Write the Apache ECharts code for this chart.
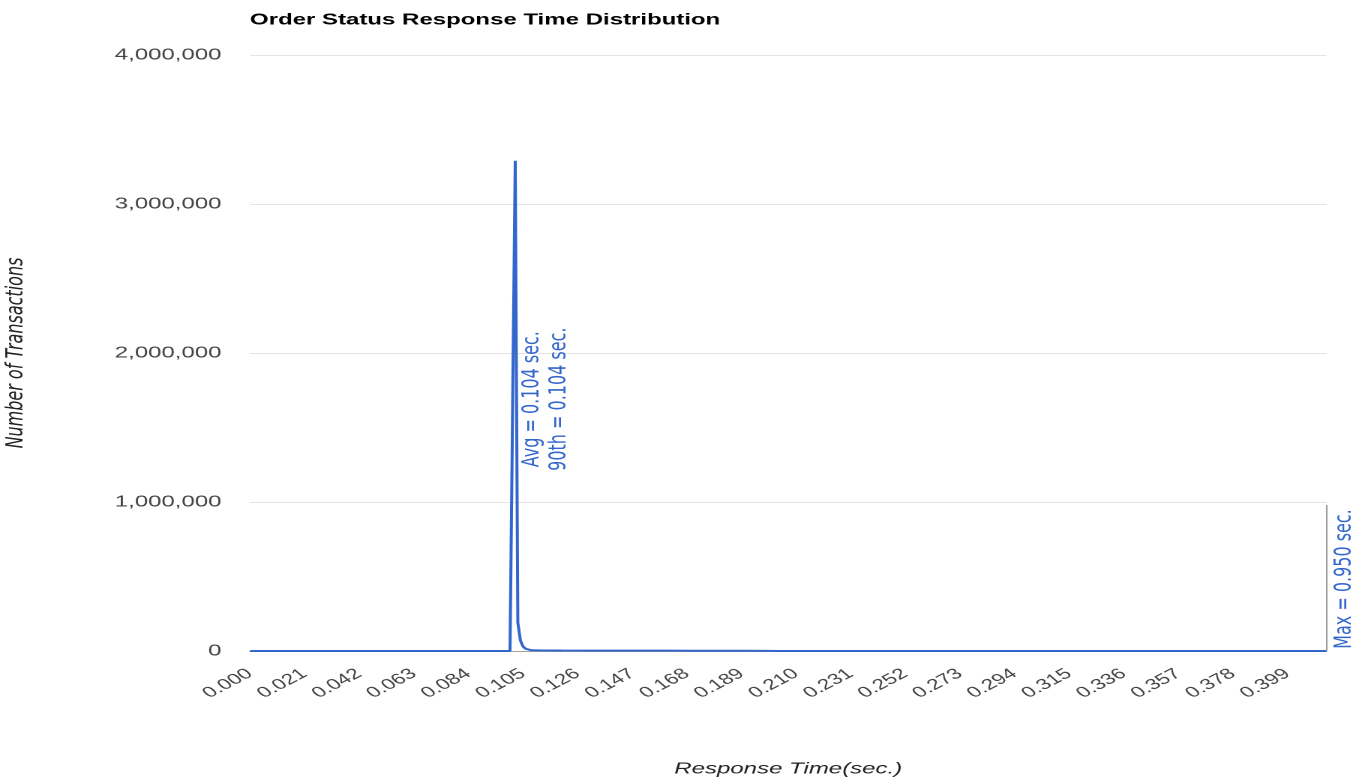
<!DOCTYPE html>
<html>
<head>
<meta charset="utf-8">
<script src="https://cdn.jsdelivr.net/npm/echarts@6/dist/echarts.min.js"></script>
<style>
html,body{margin:0;padding:0;background:#fff;overflow:hidden}
#wrap{width:1364px;height:780px;overflow:hidden;position:relative}
#chart{width:909px;height:780px;transform:scaleX(1.5);transform-origin:0 0}
</style>
</head>
<body>
<div id="wrap"><div id="chart"></div></div>
<script>
// ---- data ----
const chartTitle = 'Order Status Response Time Distribution';
const xAxisTitle = 'Response Time(sec.)';
const yAxisTitle = 'Number of Transactions';
// response-time buckets (sec.) and transaction counts
const responseTime = [0.000, 0.100, 0.101, 0.102, 0.103, 0.104, 0.105, 0.106, 0.107, 0.108, 0.109, 0.110, 0.112, 0.115, 0.120, 0.130, 0.140, 0.150, 0.160, 0.170, 0.180, 0.190, 0.200, 0.203, 0.414];
const transactions = [0, 0, 0, 3290000, 190000, 70000, 30000, 15000, 9000, 6000, 5000, 4500, 4000, 3500, 3000, 2800, 2600, 2400, 2200, 2000, 1800, 1500, 1200, 0, 0];
const yTicks = [0, 1000000, 2000000, 3000000, 4000000];
const xTickStep = 0.021;
const xMax = 0.414;
const avgTime = 0.104;
const p90Time = 0.104;
const maxTime = 0.950;

// ---- layout (final picture px, chart is stretched horizontally by S) ----
const S = 1.5;
const sansH = '"Liberation Sans", Arial, sans-serif';
const sansV = '"DejaVu Sans", "Liberation Sans", sans-serif';
const blue = '#3366cc';

const chart = echarts.init(document.getElementById('chart'), null, {renderer: 'canvas', devicePixelRatio: 2});

const seriesData = responseTime.map((t, i) => [t, transactions[i]]);
const lastX = responseTime[responseTime.length - 1];

chart.setOption({
  animation: false,
  backgroundColor: '#fff',
  title: {
    text: chartTitle,
    left: 250 / S,
    top: 12,
    padding: 0,
    textStyle: {fontFamily: sansH, fontSize: 16, fontWeight: 'bold', color: '#000'}
  },
  grid: {left: 250 / S, right: 37 / S, top: 55, bottom: 129, containLabel: false, outerBoundsMode: 'none'},
  xAxis: {
    type: 'value',
    min: 0,
    max: xMax,
    interval: xTickStep,
    name: xAxisTitle,
    nameLocation: 'middle',
    nameGap: 110,
    nameTextStyle: {fontFamily: sansH, fontSize: 16, fontStyle: 'italic', color: '#222'},
    axisLine: {show: true, onZero: false, lineStyle: {color: '#a0a0a0', width: 1}},
    axisTick: {show: false},
    splitLine: {show: false},
    axisLabel: {
      show: true,
      rotate: 38,
      margin: 21,
      showMaxLabel: false,
      hideOverlap: false,
      fontFamily: sansH,
      fontSize: 15,
      color: '#444',
      formatter: v => v.toFixed(3)
    }
  },
  yAxis: {
    type: 'value',
    min: yTicks[0],
    max: yTicks[yTicks.length - 1],
    interval: yTicks[1] - yTicks[0],
    name: yAxisTitle,
    nameLocation: 'middle',
    nameGap: 148,
    nameRotate: 90,
    nameTextStyle: {fontFamily: sansV, fontSize: 16, fontStyle: 'italic', color: '#222'},
    axisLine: {show: false},
    axisTick: {show: false},
    splitLine: {show: true, lineStyle: {color: '#e4e4e4', width: 1}},
    axisLabel: {
      margin: 19,
      fontFamily: sansH,
      fontSize: 16,
      color: '#444',
      formatter: v => v.toLocaleString('en-US')
    }
  },
  series: [{
    type: 'line',
    data: seriesData,
    showSymbol: false,
    symbol: 'none',
    smooth: false,
    lineStyle: {color: blue, width: 2},
    itemStyle: {color: blue},
    z: 3,
    markLine: {
      silent: true,
      symbol: ['none', 'none'],
      label: {show: false},
      lineStyle: {color: '#999', width: 1, type: 'solid'},
      data: [[{coord: [lastX, 0]}, {coord: [lastX, 980000]}]]
    },
    markPoint: {
      silent: true,
      symbol: 'circle',
      symbolSize: 0,
      itemStyle: {color: 'rgba(0,0,0,0)'},
      data: [
        {
          coord: [avgTime, 1690000],
          label: {
            show: true, position: 'inside', rotate: 90, offset: [0, 17],
            fontFamily: sansV, fontSize: 16, lineHeight: 18, color: blue,
            formatter: 'Avg = ' + avgTime.toFixed(3) + ' sec.\n90th = ' + p90Time.toFixed(3) + ' sec.'
          }
        },
        {
          coord: [lastX, 483000],
          label: {
            show: true, position: 'inside', rotate: 90, offset: [0, 12],
            fontFamily: sansV, fontSize: 16, color: blue,
            formatter: 'Max = ' + maxTime.toFixed(3) + ' sec.'
          }
        }
      ]
    }
  }]
});
</script>
</body>
</html>
